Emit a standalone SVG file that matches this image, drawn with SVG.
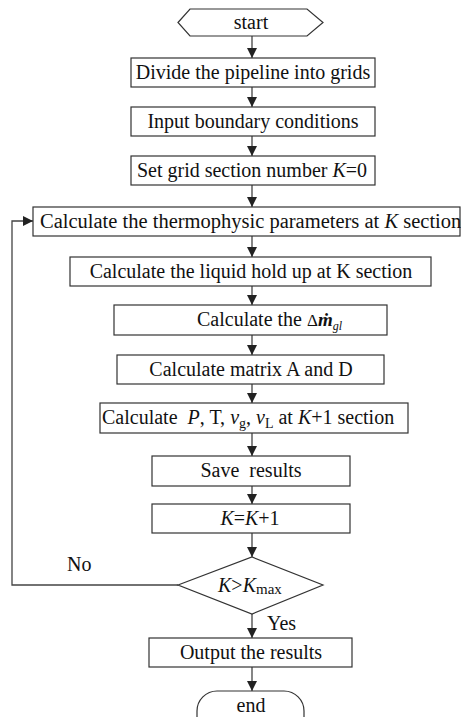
<svg xmlns="http://www.w3.org/2000/svg" width="461" height="717" viewBox="0 0 461 717">
<style>
.b{fill:#fff;stroke:#333;stroke-width:1.2}
.t{font-family:"Liberation Serif","Times New Roman",serif;font-size:20px;fill:#111;text-anchor:middle}
.l{font-family:"Liberation Serif","Times New Roman",serif;font-size:20px;fill:#111}
.i{font-style:italic}
.c{fill:none;stroke:#444;stroke-width:1.3}
</style>
<defs>
<marker id="ah" markerWidth="10" markerHeight="10" refX="10" refY="5" orient="auto" markerUnits="userSpaceOnUse"><path d="M0,0 L10,5 L0,10 z" fill="#222"/></marker>
</defs>
<g id="connectors">
<line class="c" x1="252" y1="36" x2="252" y2="58" marker-end="url(#ah)"/>
<line class="c" x1="252" y1="87" x2="252" y2="107" marker-end="url(#ah)"/>
<line class="c" x1="252" y1="136" x2="252" y2="156" marker-end="url(#ah)"/>
<line class="c" x1="252" y1="185" x2="252" y2="207" marker-end="url(#ah)"/>
<line class="c" x1="252" y1="236" x2="252" y2="257" marker-end="url(#ah)"/>
<line class="c" x1="252" y1="286" x2="252" y2="305" marker-end="url(#ah)"/>
<line class="c" x1="252" y1="335" x2="252" y2="355" marker-end="url(#ah)"/>
<line class="c" x1="252" y1="384" x2="252" y2="403" marker-end="url(#ah)"/>
<line class="c" x1="252" y1="433" x2="252" y2="456" marker-end="url(#ah)"/>
<line class="c" x1="252" y1="486" x2="252" y2="504" marker-end="url(#ah)"/>
<line class="c" x1="252" y1="533" x2="252" y2="557" marker-end="url(#ah)"/>
<line class="c" x1="252" y1="614" x2="252" y2="638" marker-end="url(#ah)"/>
<line class="c" x1="252" y1="667" x2="252" y2="691" marker-end="url(#ah)"/>
<polyline class="c" points="178,585 12,585 12,221 33,221" marker-end="url(#ah)"/>
<text class="l" x="67" y="571">No</text>
<text class="l" x="267" y="630">Yes</text>
</g>
<g id="start">
<polygon class="b" points="178,22.5 190,9 307,9 323,22.5 307,36 190,36"/>
<text class="t" x="251" y="29">start</text>
</g>
<g id="divide">
<rect class="b" x="131" y="58" width="244" height="29"/>
<text class="t" x="253" y="79">Divide the pipeline into grids</text>
</g>
<g id="input">
<rect class="b" x="131" y="107" width="244" height="29"/>
<text class="t" x="253" y="128">Input boundary conditions</text>
</g>
<g id="setgrid">
<rect class="b" x="131" y="156" width="244" height="29"/>
<text class="t" x="252" y="177">Set grid section number <tspan class="i">K</tspan>=0</text>
</g>
<g id="thermo">
<rect class="b" x="33" y="207" width="427" height="29"/>
<text class="l" x="40" y="228" style="font-size:20.5px">Calculate the thermophysic parameters at <tspan class="i">K</tspan> section</text>
</g>
<g id="liquid">
<rect class="b" x="70" y="257" width="361" height="29"/>
<text class="t" x="251" y="278">Calculate the liquid hold up at K section</text>
</g>
<g id="dm">
<rect class="b" x="114" y="305" width="273" height="30"/>
<text class="l" x="197" y="326">Calculate the <tspan style="font-size:17px">Δ</tspan><tspan class="i" style="font-size:19px;font-weight:bold">ṁ</tspan><tspan class="i" style="font-size:12px" dy="4">gl</tspan></text>
</g>
<g id="matrix">
<rect class="b" x="117" y="355" width="267" height="29"/>
<text class="t" x="251" y="376">Calculate matrix A and D</text>
</g>
<g id="calcP">
<rect class="b" x="100" y="403" width="308" height="30"/>
<text class="l" x="102" y="424" style="white-space:pre">Calculate  <tspan class="i">P</tspan>, T, <tspan class="i">v</tspan><tspan style="font-size:14px" dy="4">g</tspan><tspan dy="-4">, </tspan><tspan class="i">v</tspan><tspan style="font-size:14px" dy="4">L</tspan><tspan dy="-4"> at </tspan><tspan class="i">K</tspan>+1 section</text>
</g>
<g id="save">
<rect class="b" x="152" y="456" width="198" height="30"/>
<text class="t" x="251" y="477" style="white-space:pre">Save  results</text>
</g>
<g id="kinc">
<rect class="b" x="152" y="504" width="198" height="29"/>
<text class="t" x="250" y="525"><tspan class="i">K</tspan>=<tspan class="i">K</tspan>+1</text>
</g>
<g id="decision">
<polygon class="b" points="178,585 252,557 323,585 252,614"/>
<text class="l" x="218" y="592"><tspan class="i">K</tspan>&gt;<tspan class="i">K</tspan><tspan style="font-size:15px" dy="2">max</tspan></text>
</g>
<g id="output">
<rect class="b" x="149" y="638" width="203" height="29"/>
<text class="t" x="251" y="659">Output the results</text>
</g>
<g id="end">
<rect class="b" x="197" y="691" width="107" height="50" rx="20" ry="20"/>
<text class="t" x="251" y="712">end</text>
</g>
</svg>
